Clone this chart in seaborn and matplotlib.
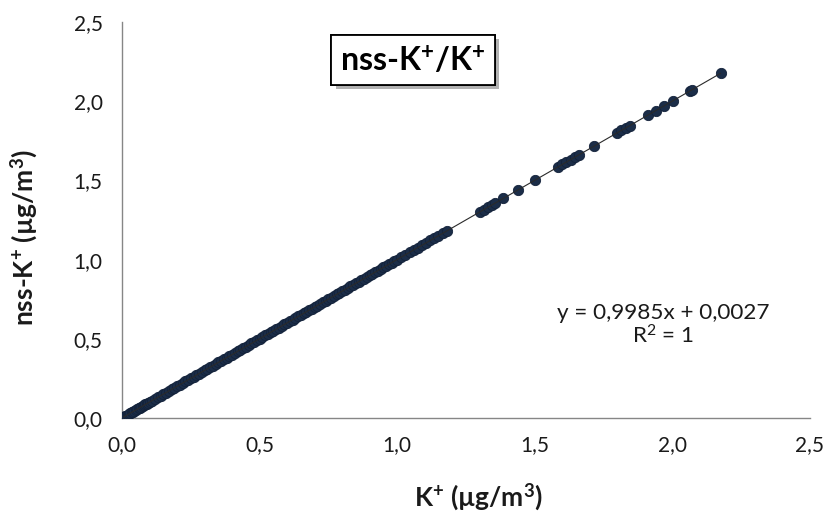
import matplotlib
matplotlib.use("Agg")
import matplotlib.pyplot as plt
import matplotlib.patheffects as pe
import seaborn as sns
import pandas as pd

# ---- data ----
k_total = [0.005, 0.010, 0.015, 0.020, 0.025, 0.030, 0.035, 0.040, 0.045, 0.050,
           0.055, 0.060, 0.065, 0.070, 0.075, 0.080, 0.085, 0.090, 0.095,
           0.10, 0.11, 0.12, 0.13, 0.14, 0.15, 0.16, 0.17, 0.18, 0.19,
           0.20, 0.21, 0.22, 0.23, 0.24, 0.25, 0.26, 0.27, 0.28, 0.29,
           0.30, 0.31, 0.32, 0.33, 0.34, 0.35, 0.36, 0.37, 0.38, 0.39,
           0.40, 0.41, 0.42, 0.43, 0.44, 0.45, 0.46, 0.47, 0.48, 0.49,
           0.50, 0.51, 0.52, 0.53, 0.54, 0.55, 0.56, 0.57, 0.58, 0.59,
           0.60, 0.61, 0.62, 0.63, 0.64, 0.65, 0.66, 0.67, 0.68, 0.69,
           0.70, 0.71, 0.72, 0.73, 0.74, 0.75, 0.76, 0.77, 0.78, 0.79,
           0.80, 0.81, 0.82, 0.83, 0.84, 0.85, 0.86, 0.87, 0.88, 0.89,
           0.90, 0.91, 0.92, 0.93, 0.94, 0.95, 0.96, 0.97, 0.98, 0.99,
           1.000, 1.015, 1.030, 1.045, 1.060, 1.075, 1.090, 1.105, 1.120, 1.135,
           1.150, 1.165, 1.180,
           1.300, 1.315, 1.330, 1.345, 1.356, 1.386, 1.438, 1.500,
           1.585, 1.600, 1.615, 1.630, 1.645, 1.660, 1.716,
           1.800, 1.815, 1.830, 1.845, 1.910, 1.940, 1.970, 2.002,
           2.065, 2.072, 2.175]

nss_k = [0.007, 0.012, 0.017, 0.022, 0.027, 0.032, 0.037, 0.042, 0.047, 0.052,
         0.057, 0.062, 0.067, 0.072, 0.077, 0.082, 0.087, 0.092, 0.097,
         0.102, 0.112, 0.122, 0.132, 0.142, 0.152, 0.162, 0.172, 0.182, 0.192,
         0.202, 0.212, 0.222, 0.232, 0.242, 0.252, 0.262, 0.272, 0.282, 0.292,
         0.302, 0.312, 0.322, 0.332, 0.342, 0.352, 0.362, 0.372, 0.382, 0.392,
         0.402, 0.412, 0.422, 0.432, 0.442, 0.452, 0.462, 0.472, 0.482, 0.492,
         0.502, 0.512, 0.522, 0.532, 0.542, 0.552, 0.562, 0.572, 0.582, 0.592,
         0.602, 0.612, 0.622, 0.632, 0.642, 0.652, 0.662, 0.672, 0.682, 0.692,
         0.701, 0.711, 0.721, 0.731, 0.741, 0.751, 0.761, 0.771, 0.781, 0.791,
         0.801, 0.811, 0.821, 0.831, 0.841, 0.851, 0.861, 0.871, 0.881, 0.891,
         0.901, 0.911, 0.921, 0.931, 0.941, 0.951, 0.961, 0.971, 0.981, 0.991,
         1.001, 1.016, 1.031, 1.046, 1.061, 1.076, 1.091, 1.106, 1.121, 1.136,
         1.151, 1.166, 1.181,
         1.301, 1.316, 1.331, 1.346, 1.357, 1.387, 1.439, 1.501,
         1.585, 1.600, 1.615, 1.630, 1.645, 1.660, 1.716,
         1.800, 1.815, 1.830, 1.845, 1.910, 1.940, 1.970, 2.001,
         2.064, 2.071, 2.174]

tick_values = [0.0, 0.5, 1.0, 1.5, 2.0, 2.5]
tick_labels = ["0,0", "0,5", "1,0", "1,5", "2,0", "2,5"]

title_text = r"nss-K$^{\mathbf{+}}$/K$^{\mathbf{+}}$"
x_label = r"K$^{\mathbf{+}}$ (µg/m$^{\mathbf{3}}$)"
y_label = r"nss-K$^{\mathbf{+}}$ (µg/m$^{\mathbf{3}}$)"
equation_text = "y = 0,9985x + 0,0027"
r2_text = r"R$^{2}$ = 1"

df = pd.DataFrame({"K": k_total, "nssK": nss_k})

# ---- styling ----
sns.set_style("white")
plt.rcParams["font.family"] = ["Lato", "DejaVu Sans"]
plt.rcParams["mathtext.fontset"] = "custom"
plt.rcParams["mathtext.rm"] = "Lato"
plt.rcParams["mathtext.bf"] = "Lato:bold"
plt.rcParams["mathtext.it"] = "Lato:italic"

W, H = 824, 514
fig = plt.figure(figsize=(W / 100, H / 100), dpi=100)
ax = fig.add_axes([122 / W, 1 - 418.3 / H, 688 / W, 396.6 / H])

marker_color = "#1B2D48"
sns.scatterplot(data=df, x="K", y="nssK", ax=ax, s=55, color=marker_color,
                edgecolor="#13223A", linewidth=0.6, zorder=3, legend=False)
sns.regplot(data=df, x="K", y="nssK", ax=ax, scatter=False, ci=None,
            line_kws=dict(color="#2a2a2a", lw=0.8, zorder=5))

ax.set_xlim(0, 2.5)
ax.set_ylim(0, 2.5)
ax.set_xticks(tick_values)
ax.set_xticklabels(tick_labels)
ax.set_yticks(tick_values)
ax.set_yticklabels(tick_labels)
ax.set_xlabel("")
ax.set_ylabel("")

for side in ["top", "right"]:
    ax.spines[side].set_visible(False)
for side in ["left", "bottom"]:
    ax.spines[side].set_color("#868686")
    ax.spines[side].set_linewidth(1.0)
ax.tick_params(axis="both", direction="out", length=5, width=1.0,
               color="#868686", labelsize=15, labelcolor="#1a1a1a")
ax.tick_params(axis="y", pad=9)
ax.tick_params(axis="x", pad=7)
ax.grid(False)

# axis titles
fig.text(478 / W, 1 - 497 / H, x_label, ha="center", va="center",
         fontsize=19, fontweight="bold", color="#1a1a1a")
fig.text(24 / W, 1 - 238 / H, y_label, ha="center", va="center",
         rotation=90, fontsize=19, fontweight="bold", color="#1a1a1a")

# equation
fig.text(663 / W, 1 - 313 / H, equation_text, ha="center", va="center",
         fontsize=16.2, color="#1a1a1a")
fig.text(663 / W, 1 - 336 / H, r2_text, ha="center", va="center",
         fontsize=16.2, color="#1a1a1a")

# title box with shadow
t = fig.text(413 / W, 1 - 60 / H, title_text, ha="center", va="center",
             fontsize=23, fontweight="bold", color="black",
             bbox=dict(boxstyle="square,pad=0.28", fc="white", ec="black", lw=1.3))
t.get_bbox_patch().set_path_effects([
    pe.withSimplePatchShadow(offset=(3, -3), shadow_rgbFace="#7f7f7f", alpha=0.6),
    pe.Normal()])

fig.savefig("out.png", dpi=100, facecolor="white")
